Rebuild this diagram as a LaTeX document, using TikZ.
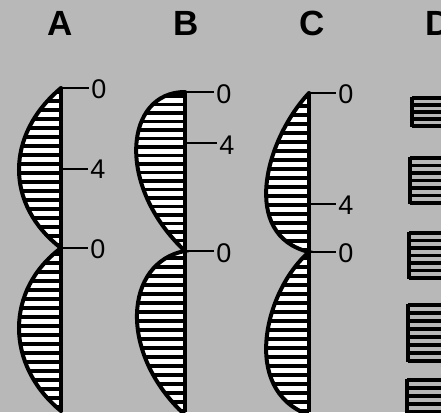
\documentclass[tikz,border=0pt]{standalone}
\usepackage{fontspec}
\setmainfont{Liberation Sans}

\begin{document}
\begin{tikzpicture}[x=1pt, y=-1pt,
    outline/.style={line width=4pt, line cap=round},
    hatch/.style={line width=3.5pt},
    axisline/.style={line width=3.5pt},
    tick/.style={line width=2.5pt},
    num/.style={inner sep=2pt, font=\fontsize{27}{27}\selectfont},
    head/.style={anchor=base, inner sep=0pt, font=\fontsize{35}{35}\selectfont\bfseries}]

    % Background
    \useasboundingbox (0,0) rectangle (441,412);
    \fill[black!28] (0,0) rectangle (441,412);

    % Column headings
    \node[head] (hA) at (60,35.5) {A};
    \node[head] (hB) at (186,35.5) {B};
    \node[head] (hC) at (312,35.5) {C};
    \node[head, anchor=base west] (hD) at (425,35.5) {D};

    % Column A: two lobes
    \begin{scope}
      \clip (61,88) .. controls (5,135) and (5,205) .. (61,248) -- cycle;
      \fill[white] (0,80) rectangle (61,260);
      \foreach \y in {92,101,...,248} \draw[hatch] (0,\y) -- (61,\y);
    \end{scope}
    \begin{scope}
      \clip (61,248) .. controls (5,290) and (5,365) .. (61,411) -- cycle;
      \fill[white] (0,240) rectangle (61,415);
      \foreach \y in {254,263,...,412} \draw[hatch] (0,\y) -- (61,\y);
    \end{scope}
    \draw[outline] (61,88) .. controls (5,135) and (5,205) .. (61,248)
      .. controls (5,290) and (5,365) .. (61,411);
    \draw[axisline] (61,88) -- (61,412);

    % Column B: two lobes
    \begin{scope}
      \clip (185,92) .. controls (125,92) and (115,185) .. (185,251) -- cycle;
      \fill[white] (100,85) rectangle (185,260);
      \foreach \y in {96,104.5,...,251} \draw[hatch] (100,\y) -- (185,\y);
    \end{scope}
    \begin{scope}
      \clip (185,251) .. controls (125,262) and (117,352) .. (185,415) -- cycle;
      \fill[white] (100,245) rectangle (185,415);
      \foreach \y in {258,267,...,412} \draw[hatch] (100,\y) -- (185,\y);
    \end{scope}
    \draw[outline] (185,92) .. controls (125,92) and (115,185) .. (185,251)
      .. controls (125,262) and (117,352) .. (185,415);
    \draw[axisline] (185,92) -- (185,412);

    % Column C: two lobes
    \begin{scope}
      \clip (309,93) .. controls (265,140) and (240,235) .. (309,252) -- cycle;
      \fill[white] (220,85) rectangle (309,260);
      \foreach \y in {97,106,...,252} \draw[hatch] (220,\y) -- (309,\y);
    \end{scope}
    \begin{scope}
      \clip (309,252) .. controls (265,290) and (240,390) .. (309,415) -- cycle;
      \fill[white] (220,245) rectangle (309,415);
      \foreach \y in {258,267,...,412} \draw[hatch] (220,\y) -- (309,\y);
    \end{scope}
    \draw[outline] (309,93) .. controls (265,140) and (240,235) .. (309,252)
      .. controls (265,290) and (240,390) .. (309,415);
    \draw[axisline] (309,93) -- (309,412);

    % Ticks and numbers
    \coordinate (A0) at (61,88);
    \coordinate (A4) at (61,169);
    \coordinate (Am) at (61,248);
    \coordinate (B0) at (185,92);
    \coordinate (B4) at (185,143);
    \coordinate (Bm) at (185,251);
    \coordinate (C0) at (309,93);
    \coordinate (C4) at (309,204);
    \coordinate (Cm) at (309,252);
    \node[num] (nA0) at (99,89.5) {0};
    \node[num] (nA4) at (98,169) {4};
    \node[num] (nAm) at (98,249) {0};
    \node[num] (nB0) at (224,94) {0};
    \node[num] (nB4) at (227,145) {4};
    \node[num] (nBm) at (224,253) {0};
    \node[num] (nC0) at (346,94) {0};
    \node[num] (nC4) at (346,205) {4};
    \node[num] (nCm) at (346,253) {0};
    \foreach \p in {A0,A4,Am,B0,B4,Bm,C0,C4,Cm}
      \draw[tick] (\p) -- (n\p.west |- \p);

    % Column D: stacks of bars
    \draw[hatch] (412,97) -- (412,127);
    \foreach \y in {98,105,...,126} \draw[hatch] (412,\y) -- (445,\y);
    \draw[hatch] (410,157) -- (410,204);
    \foreach \y in {158,165.5,...,204} \draw[hatch] (410,\y) -- (445,\y);
    \draw[hatch] (409,232) -- (409,279);
    \foreach \y in {233,240.5,...,279} \draw[hatch] (409,\y) -- (445,\y);
    \draw[hatch] (408,304) -- (408,362);
    \foreach \y in {305,313,...,362} \draw[hatch] (408,\y) -- (445,\y);
    \draw[hatch] (407,379) -- (407,415);
    \foreach \y in {380,388,...,412} \draw[hatch] (407,\y) -- (445,\y);
  \end{tikzpicture}
\end{document}
